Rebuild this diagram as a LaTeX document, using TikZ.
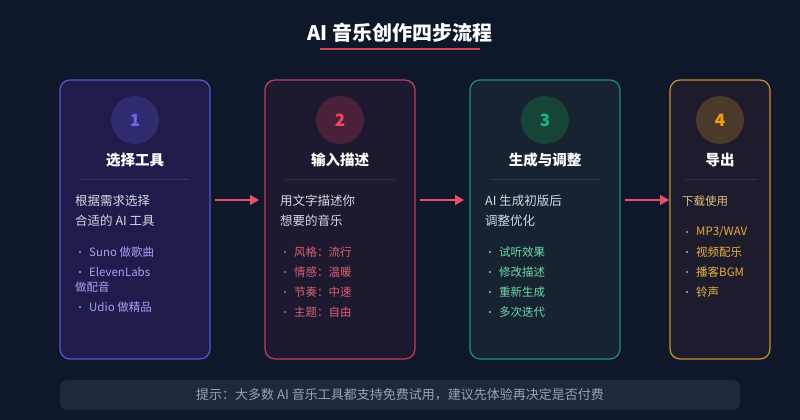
\documentclass[tikz,border=0pt]{standalone}
\usepackage{fontspec}
\setmainfont{Noto Sans CJK SC}
\usetikzlibrary{arrows.meta}
\definecolor{bg}{HTML}{0F172A}
\definecolor{arr}{HTML}{E8506A}
\definecolor{cfA}{HTML}{1F1B4B}\definecolor{cbA}{HTML}{5A57D0}\definecolor{ccA}{HTML}{2E2B6E}\definecolor{ctA}{HTML}{6B67F0}\definecolor{clA}{HTML}{A7A2F2}
\definecolor{cfB}{HTML}{1D1A2F}\definecolor{cbB}{HTML}{C3405C}\definecolor{ccB}{HTML}{4A2138}\definecolor{ctB}{HTML}{F0475F}\definecolor{clB}{HTML}{DC5E78}
\definecolor{cfC}{HTML}{172331}\definecolor{cbC}{HTML}{1E8E78}\definecolor{ccC}{HTML}{174438}\definecolor{ctC}{HTML}{18B981}\definecolor{clC}{HTML}{6FD8B0}
\definecolor{cfD}{HTML}{1E1B2D}\definecolor{cbD}{HTML}{C8902E}\definecolor{ccD}{HTML}{4A3A2A}\definecolor{ctD}{HTML}{F5A00B}\definecolor{clD}{HTML}{E8B040}
\definecolor{desc}{HTML}{D8D8E6}
\definecolor{tipbg}{HTML}{1E293B}
\definecolor{tiptx}{HTML}{98A2B6}
\tikzset{
  card/.style={draw=#1, line width=1.2pt, rounded corners=10pt},
  numcirc/.style={circle, minimum size=48pt, inner sep=0pt, font=\bfseries\fontsize{17}{17}\selectfont},
  ctitle/.style={text=white, font=\bfseries\fontsize{14.5}{15}\selectfont, inner sep=0pt},
  desctext/.style={text=desc, anchor=west, inner sep=0pt, font=\fontsize{12.5}{13}\selectfont},
  bul/.style={anchor=west, inner sep=0pt, font=\fontsize{11.5}{12}\selectfont},
  flow/.style={draw=arr, line width=1.6pt, -{Triangle[length=9pt,width=10pt]}},
}
\begin{document}
\begin{tikzpicture}[x=1pt,y=-1pt]
\fill[bg] (0,0) rectangle (800,420);
\useasboundingbox (0,0) rectangle (800,420);
% title
\node[text=white, font=\bfseries\fontsize{20}{21}\selectfont] (title) at (400,33) {AI 音乐创作四步流程};
\draw[arr!85!black, line width=2pt] (320,49) -- (480,49);
% cards
\draw[card=cbA, fill=cfA] (60,80) rectangle (210,359);
\draw[card=cbB, fill=cfB] (265,80) rectangle (415,359);
\draw[card=cbC, fill=cfC] (470,80) rectangle (620,359);
\draw[card=cbD, fill=cfD] (670,80) rectangle (770,359);
% circles
\node[numcirc, fill=ccA, text=ctA] (n1) at (135,120) {1};
\node[numcirc, fill=ccB, text=ctB] (n2) at (340,120) {2};
\node[numcirc, fill=ccC, text=ctC] (n3) at (545,120) {3};
\node[numcirc, fill=ccD, text=ctD] (n4) at (720,120) {4};
% titles
\node[ctitle] (t1) at (135,160) {选择工具};
\node[ctitle] (t2) at (340,160) {输入描述};
\node[ctitle] (t3) at (545,160) {生成与调整};
\node[ctitle] (t4) at (720,160) {导出};
% dividers
\draw[white!12!cfA, line width=1pt] (80,179) -- (188,179);
\draw[white!10!cfB, line width=1pt] (285,179) -- (395,179);
\draw[white!10!cfC, line width=1pt] (490,179) -- (600,179);
\draw[white!10!cfD, line width=1pt] (685,179) -- (756,179);
% descriptions
\node[desctext] (d1a) at (75,201) {根据需求选择};
\node[desctext] (d1b) at (75,221) {合适的 AI 工具};
\node[desctext] (d2a) at (280,201) {用文字描述你};
\node[desctext] (d2b) at (280,221) {想要的音乐};
\node[desctext] (d3a) at (485,201) {AI 生成初版后};
\node[desctext] (d3b) at (485,221) {调整优化};
\node[desctext, font=\fontsize{11.5}{12}\selectfont, text=clD!60!desc] (d4a) at (682,201) {下载使用};
% bullets card 1
\foreach \yy/\tx in {252/{Suno 做歌曲}, 272/{ElevenLabs}, 307/{Udio 做精品}}{
  \fill[clA] (80,\yy) circle (1.1pt);
  \node[bul, text=clA] at (89,\yy) {\tx};
}
\node[bul, text=clA] (b1c) at (75,287) {做配音};
% bullets card 2
\foreach \yy/\tx in {252/{风格：流行}, 272/{情感：温暖}, 292/{节奏：中速}, 312/{主题：自由}}{
  \fill[clB] (285,\yy) circle (1.1pt);
  \node[bul, text=clB] at (294,\yy) {\tx};
}
% bullets card 3
\foreach \yy/\tx in {252/{试听效果}, 272/{修改描述}, 292/{重新生成}, 312/{多次迭代}}{
  \fill[clC] (490,\yy) circle (1.1pt);
  \node[bul, text=clC] at (499,\yy) {\tx};
}
% bullets card 4
\foreach \yy/\tx in {232/{MP3/WAV}, 252/{视频配乐}, 272/{播客BGM}, 292/{铃声}}{
  \fill[clD] (687,\yy) circle (1.1pt);
  \node[bul, text=clD] at (696,\yy) {\tx};
}
% arrows
\coordinate (a1s) at (215,200);\coordinate (a1e) at (259,200);
\coordinate (a2s) at (420,200);\coordinate (a2e) at (464,200);
\coordinate (a3s) at (625,200);\coordinate (a3e) at (669,200);
\draw[flow] (a1s) -- (a1e);
\draw[flow] (a2s) -- (a2e);
\draw[flow] (a3s) -- (a3e);
% tip
\fill[tipbg, rounded corners=7pt] (60,380) rectangle (740,410);
\node[text=tiptx, font=\fontsize{13}{14}\selectfont] (tip) at (400,395) {提示：大多数 AI 音乐工具都支持免费试用，建议先体验再决定是否付费};
\end{tikzpicture}
\end{document}
